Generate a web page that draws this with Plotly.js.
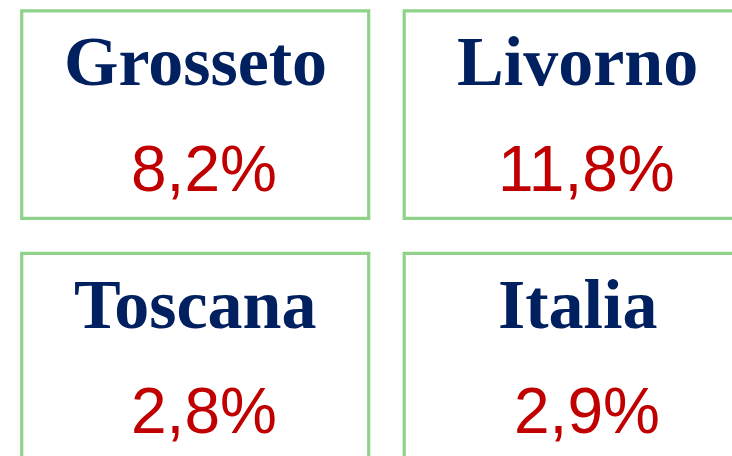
<!DOCTYPE html>
<html>
<head>
<meta charset="utf-8">
<script src="https://cdn.plot.ly/plotly-3.0.1.min.js"></script>
<style>html,body{margin:0;padding:0;background:#fff;}#chart{width:732px;height:456px;}</style>
</head>
<body>
<div id="chart"></div>
<script>
// Data
var regions = ["Grosseto", "Livorno", "Toscana", "Italia"];
var values = ["8,2%", "11,8%", "2,8%", "2,9%"];

// Layout grid (pixel space of the 732x456 canvas)
var colX0 = [21.7, 404.2];
var rowY0 = [10.8, 253.3];
var boxW = 347;
var boxH = 207.5;

var shapes = [];
var annotations = [];
for (var i = 0; i < regions.length; i++) {
  var c = i % 2, r = Math.floor(i / 2);
  var x0 = colX0[c], y0 = rowY0[r];
  var cx = x0 + boxW / 2;
  shapes.push({
    type: "rect", xref: "x", yref: "y",
    x0: x0, x1: x0 + boxW, y0: y0, y1: y0 + boxH,
    line: {color: "rgb(142,211,137)", width: 3.2},
    fillcolor: "rgba(0,0,0,0)"
  });
  annotations.push({
    xref: "x", yref: "y", x: cx, y: y0 + 51,
    text: regions[i], showarrow: false,
    xanchor: "center", yanchor: "middle",
    font: {family: "Liberation Serif", size: 70, color: "#002060", weight: "bold"}
  });
  annotations.push({
    xref: "x", yref: "y", x: cx + 9, y: y0 + 158,
    text: values[i], showarrow: false,
    xanchor: "center", yanchor: "middle",
    font: {family: "Liberation Sans", size: 64, color: "#C00000"}
  });
}

var layout = {
  width: 732, height: 456,
  margin: {l: 0, r: 0, t: 0, b: 0, pad: 0},
  paper_bgcolor: "#ffffff", plot_bgcolor: "#ffffff",
  xaxis: {range: [0, 732], visible: false, fixedrange: true},
  yaxis: {range: [456, 0], visible: false, fixedrange: true},
  showlegend: false,
  shapes: shapes,
  annotations: annotations
};

Plotly.newPlot("chart", [], layout, {staticPlot: true, displayModeBar: false});
</script>
</body>
</html>
